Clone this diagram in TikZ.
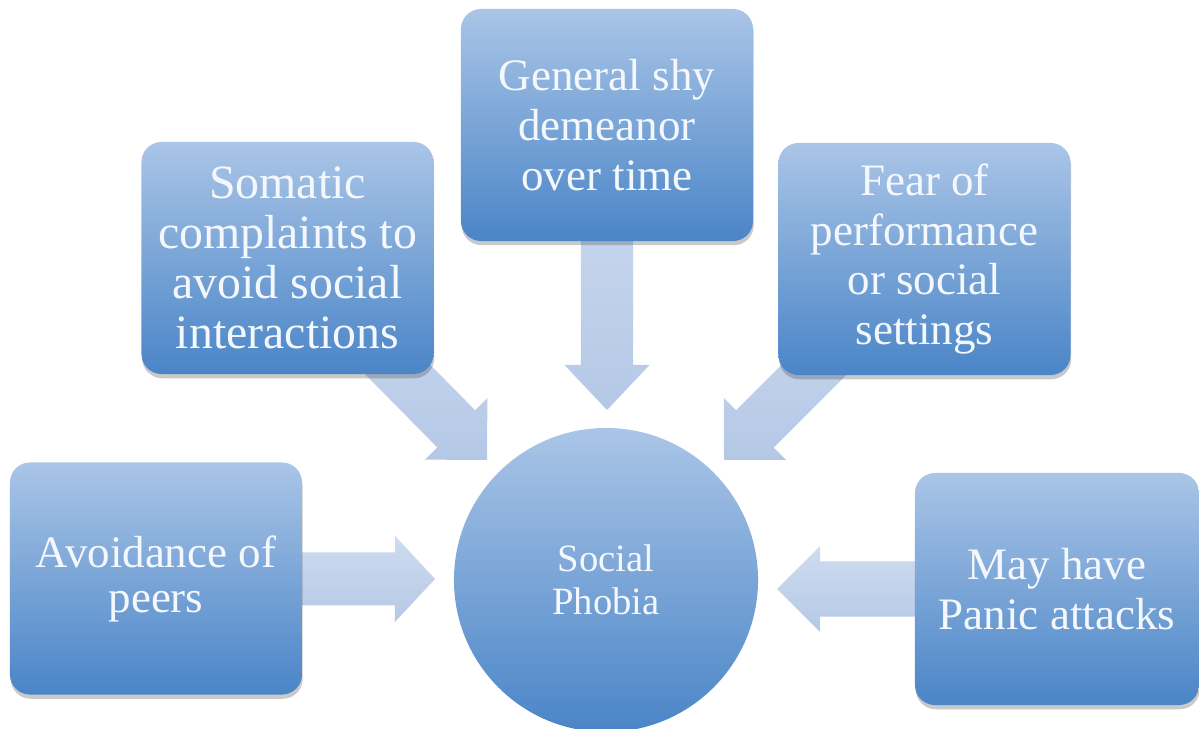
\documentclass[tikz,border=0pt]{standalone}
\usepackage{fontspec}
\setmainfont{Liberation Serif}
\usetikzlibrary{calc,shadows}
\pgfdeclarelayer{bg}
\pgfsetlayers{bg,main}
\definecolor{boxtop}{RGB}{170,197,231}
\definecolor{boxbot}{RGB}{74,133,199}
\definecolor{arrtop}{RGB}{207,220,239}
\definecolor{arrbot}{RGB}{180,200,230}
\definecolor{txt}{RGB}{244,248,253}
% #1 tail, #2 tip, #3 shaft half width, #4 head half width, #5 head length
\newcommand\blockarr[5]{%
  \path ($(#2)!#5!(#1)$) coordinate (hb);
  \path[arrowfill] ($(#1)!#3!90:(#2)$) -- ($(hb)!#3!90:(#2)$) -- ($(hb)!#4!90:(#2)$)
    -- (#2) -- ($(hb)!#4!-90:(#2)$) -- ($(hb)!#3!-90:(#2)$) -- ($(#1)!#3!-90:(#2)$) -- cycle;
}
% #1 vertical shift, #2 lines
\newcommand\btext[2]{\raisebox{#1}{\parbox{7cm}{\centering #2}}}
\tikzset{
  arrowfill/.style={top color=arrtop, bottom color=arrbot},
  bluebox/.style={rectangle, rounded corners=0.5cm, top color=boxtop, bottom color=boxbot,
    minimum width=7.3cm, minimum height=5.8cm, inner sep=0pt,
    text=txt, font=\fontsize{32}{35.5}\selectfont,
    drop shadow={shadow xshift=0.5pt, shadow yshift=-3pt, opacity=0.3, fill=black!70}},
  bluecircle/.style={circle, top color=boxtop, bottom color=boxbot, minimum size=7.6cm,
    inner sep=0pt, align=center, text=txt, font=\fontsize{27.5}{30.6}\selectfont}
}
\begin{document}
\begin{tikzpicture}[x=0.025cm, y=-0.025cm]
  \useasboundingbox (0,0) rectangle (1199,729);
  \clip (0,0) rectangle (1199,729);
  \node[bluebox, font=\fontsize{32}{32}\selectfont] (av) at (156,578.5) {\btext{-6pt}{Avoidance of\\peers}};
  \node[bluebox, font=\fontsize{34}{35.5}\selectfont] (som) at (287.5,258) {\btext{-3pt}{Somatic\\complaints to\\avoid social\\interactions}};
  \node[bluebox] (gen) at (607,125) {\btext{0pt}{General shy\\demeanor\\over time}};
  \node[bluebox] (fear) at (924.5,259) {\btext{-3.5pt}{Fear of\\performance\\or social\\settings}};
  \node[bluebox, minimum width=7.1cm] (pan) at (1057,589) {\btext{-2pt}{May have\\Panic attacks}};
  \node[bluecircle] (sp) at (606,580) {Social\\Phobia};
  \coordinate (tl) at (435,579);
  \coordinate (tr) at (777,589);
  \coordinate (tt) at (607,410);
  \coordinate (tdl) at (487,460);
  \coordinate (tdr) at (724,460);
  \begin{pgfonlayer}{bg}
    \blockarr{av.center}{tl}{0.6625cm}{1.075cm}{1cm}
    \blockarr{pan.center}{tr}{0.6875cm}{1.075cm}{1.075cm}
    \blockarr{gen.center}{tt}{0.65cm}{1.0625cm}{1.125cm}
    \blockarr{som.center}{tdl}{0.6625cm}{1.095cm}{1.095cm}
    \blockarr{fear.center}{tdr}{0.6625cm}{1.095cm}{1.095cm}
  \end{pgfonlayer}
\end{tikzpicture}
\end{document}
